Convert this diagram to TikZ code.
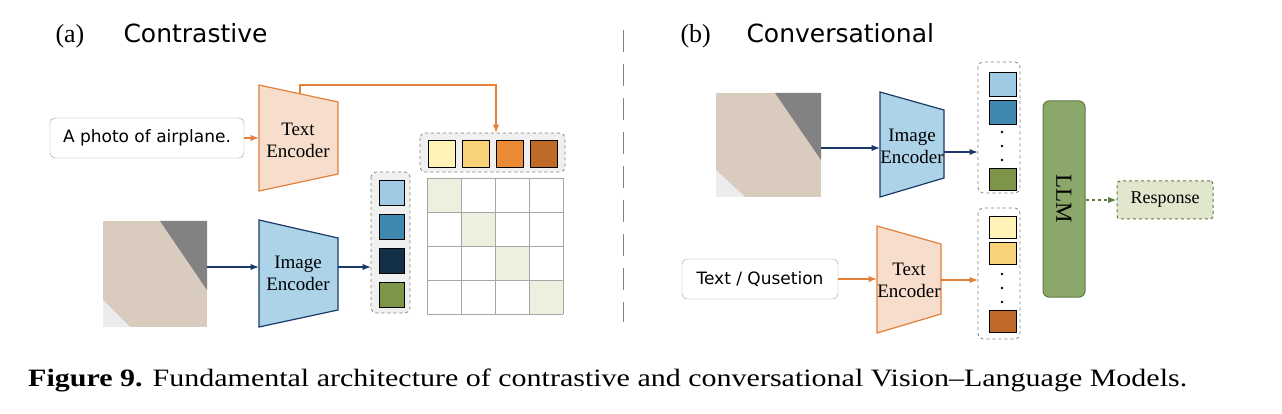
\documentclass[tikz,border=0pt]{standalone}
\usepackage{fontspec}
\setmainfont{Liberation Serif}
\newfontfamily\boxfont{DejaVu Sans}
\usetikzlibrary{arrows.meta,positioning}
\tikzset{>=Latex}
\definecolor{orangeln}{HTML}{E3803A}
\definecolor{orangefl}{HTML}{F7DDCB}
\definecolor{blueln}{HTML}{1B3A6B}
\definecolor{bluefl}{HTML}{ACD3E8}
\definecolor{tA}{HTML}{FFF3B8}
\definecolor{tB}{HTML}{F7D278}
\definecolor{tC}{HTML}{EB8A35}
\definecolor{tD}{HTML}{C06A2A}
\definecolor{iA}{HTML}{9ECAE4}
\definecolor{iB}{HTML}{3F88B0}
\definecolor{iC}{HTML}{12304A}
\definecolor{iD}{HTML}{7C9548}
\definecolor{llmfl}{HTML}{8BA86A}
\definecolor{llmln}{HTML}{5E7A44}
\definecolor{respfl}{HTML}{E0E7CC}
\definecolor{diagfl}{HTML}{EBF0DF}
\tikzset{
  inbox/.style={draw=gray!80, rounded corners=5pt, minimum height=40pt, font=\boxfont\fontsize{17}{19}\selectfont},
  tok/.style={draw=black, line width=0.9pt},
  grp/.style={draw=gray, dashed, fill=gray!12, rounded corners=5pt, line width=0.8pt},
  enclab/.style={align=center, font=\fontsize{19}{22}\selectfont, inner sep=0pt},
  oarr/.style={->, orangeln, line width=1.2pt},
  barr/.style={->, blueln, line width=1.2pt},
  title/.style={font=\boxfont\fontsize{25}{28}\selectfont, anchor=base west},
  lbl/.style={font=\fontsize{26}{28}\selectfont, anchor=base west},
  dots/.style={fill=black, radius=1.3pt}
}
\begin{document}
\begin{tikzpicture}[x=1pt,y=-1pt]
  \useasboundingbox (0,0) rectangle (1282,414);

  % titles and divider
  \node[lbl] at (52,43) {(a)};
  \node[title] at (120,43) {Contrastive};
  \node[lbl] at (677,43) {(b)};
  \node[title] at (743,43) {Conversational};
  \draw[gray, dashed, dash pattern=on 22pt off 12pt, line width=1pt] (623,30) -- (623,322);

  % ---- (a) contrastive ----
  \node[inbox, minimum width=194pt] (txt) at (147,138) {A photo of airplane.};
  \draw[orangeln, fill=orangefl, line width=1.2pt] (259,85) -- (338,102) -- (338,174) -- (259,191) -- cycle;
  \node[enclab] (tenc) at (298,140) {Text\\Encoder};
  \coordinate (tencL) at (259,138);
  \coordinate (tencT) at (300,94);
  \draw[oarr] (txt.east) -- (tencL);

  \fill[gray!50!brown!40] (103,221) rectangle (207,327);
  \fill[gray!60!black!70] (160,221) -- (207,221) -- (207,290) -- cycle;
  \fill[gray!15] (103,300) -- (130,327) -- (103,327) -- cycle;
  \coordinate (imgA) at (207,267);
  \draw[blueln, fill=bluefl, line width=1.2pt] (259,220) -- (338,238) -- (338,310) -- (259,327) -- cycle;
  \node[enclab] (ienc) at (298,273) {Image\\Encoder};
  \coordinate (iencL) at (259,267);
  \coordinate (iencR) at (338,267);
  \draw[barr] (imgA) -- (iencL);

  \draw[grp] (420,133) rectangle (565,172);
  \foreach \c [count=\i] in {tA,tB,tC,tD}
    \draw[tok, fill=\c] ({428+34*(\i-1)},140) rectangle ++(27,27);
  \coordinate (tgrp) at (496,133);
  \draw[oarr] (tencT) |- (496,85) -- (tgrp);

  \draw[grp] (371,172) rectangle (410,313);
  \foreach \c [count=\i] in {iA,iB,iC,iD}
    \draw[tok, fill=\c] (379,{180+34*(\i-1)}) rectangle ++(25,25);
  \coordinate (igrp) at (371,267);
  \draw[barr] (iencR) -- (igrp);

  \foreach \i in {0,...,3}
    \fill[diagfl] ({427+34*\i},{178+34*\i}) rectangle ++(34,34);
  \foreach \i in {0,...,4} {
    \draw[gray!70] ({427+34*\i},178) -- ++(0,136);
    \draw[gray!70] (427,{178+34*\i}) -- ++(136,0);
  }

  % ---- (b) conversational ----
  \fill[gray!50!brown!40] (716,93) rectangle (821,197);
  \fill[gray!60!black!70] (775,93) -- (821,93) -- (821,160) -- cycle;
  \fill[gray!15] (716,170) -- (745,197) -- (716,197) -- cycle;
  \coordinate (imgB) at (821,148);
  \draw[blueln, fill=bluefl, line width=1.2pt] (880,92) -- (944,110) -- (944,178) -- (880,197) -- cycle;
  \node[enclab] (ienc2) at (912,146) {Image\\Encoder};
  \coordinate (ienc2L) at (880,148);
  \coordinate (ienc2R) at (944,152);
  \draw[barr] (imgB) -- (ienc2L);

  \draw[grp, fill=white] (978,62) rectangle (1020,193);
  \draw[tok, fill=iA] (989,72) rectangle ++(27,24);
  \draw[tok, fill=iB] (989,100) rectangle ++(27,24);
  \foreach \y in {132,146,160} \fill[dots] (1002,\y) circle;
  \draw[tok, fill=iD] (989,168) rectangle ++(27,22);
  \coordinate (igrp2) at (978,152);
  \draw[barr] (ienc2R) -- (igrp2);

  \node[inbox, minimum width=156pt] (qst) at (760,279) {Text / Qusetion};
  \draw[orangeln, fill=orangefl, line width=1.2pt] (877,226) -- (941,244) -- (941,314) -- (877,333) -- cycle;
  \node[enclab] (tenc2) at (909,280) {Text\\Encoder};
  \coordinate (tenc2L) at (877,279);
  \coordinate (tenc2R) at (941,280);
  \draw[oarr] (qst.east) -- (tenc2L);

  \draw[grp, fill=white] (978,208) rectangle (1020,339);
  \draw[tok, fill=tA] (989,216) rectangle ++(27,22);
  \draw[tok, fill=tB] (989,242) rectangle ++(27,22);
  \foreach \y in {274,288,302} \fill[dots] (1002,\y) circle;
  \draw[tok, fill=tD] (989,310) rectangle ++(27,22);
  \coordinate (tgrp2) at (978,280);
  \draw[oarr] (tenc2R) -- (tgrp2);

  \node[draw=llmln, fill=llmfl, rounded corners=6pt, line width=1pt,
        minimum width=42pt, minimum height=196pt] (llm) at (1064,199) {};
  \node[rotate=-90, font=\fontsize{23}{25}\selectfont] at (llm.center) {LLM};
  \node[draw=llmln, dashed, fill=respfl, rounded corners=3pt, line width=1pt,
        minimum width=96pt, minimum height=38pt, font=\fontsize{18}{20}\selectfont]
        (resp) at (1165,200) {Response};
  \draw[->, dashed, llmln, line width=1.2pt] (llm.east |- resp) -- (resp.west);

  % caption
  \node[anchor=base west, xscale=1.2, transform shape, font=\fontsize{25}{28}\selectfont] at (24,386)
    {\textbf{Figure 9.} Fundamental architecture of contrastive and conversational Vision--Language Models.};
\end{tikzpicture}
\end{document}
